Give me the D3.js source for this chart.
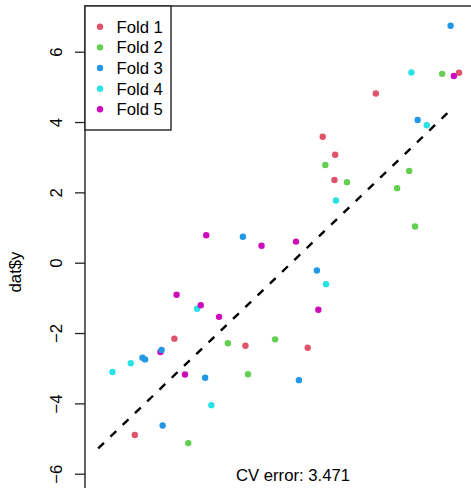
<!DOCTYPE html>
<html>
<head>
<meta charset="utf-8">
<script src="https://cdn.jsdelivr.net/npm/d3@7"></script>
<style>
  body { margin: 0; background: #fff; }
  svg { display: block; font-family: "Liberation Sans", Arial, sans-serif; }
</style>
</head>
<body>
<svg id="chart" width="471" height="488"></svg>
<script>
// fold labels and colours (R 4 default palette 2..6)
const folds = ['Fold 1', 'Fold 2', 'Fold 3', 'Fold 4', 'Fold 5'];
const foldColors = ['#DF536B', '#61D04F', '#2297E6', '#28E2E5', '#CD0BBC'];

// x / y values per fold
const fold1X = [4.57, 2.30, 0.85, 1.19, 1.17, -3.20, -4.28, -1.26, 0.44];
const fold1Y = [5.40, 4.81, 3.58, 3.07, 2.35, -2.16, -4.90, -2.36, -2.42];
const fold2X = [4.11, 0.92, 1.51, 3.21, 2.88, 3.37, -1.74, -2.82, -0.45, -1.19];
const fold2Y = [5.37, 2.78, 2.29, 2.61, 2.12, 1.03, -2.29, -5.13, -2.18, -3.17];
const fold3X = [4.34, 3.44, -1.33, 0.69, -4.07, -4.00, -2.36, -3.52, 0.20];
const fold3Y = [6.74, 4.06, 0.74, -0.22, -2.70, -2.75, -3.27, -4.63, -3.34];
const fold4X = [3.27, 3.69, 1.21, 0.94, -2.58, -4.39, -4.89, -2.19];
const fold4Y = [5.41, 3.91, 1.77, -0.61, -1.31, -2.86, -3.11, -4.05];
const fold5X = [-0.82, 0.12, 0.73, -2.33, -3.14, -2.48, -1.98, -3.58, -2.91, 4.43];
const fold5Y = [0.48, 0.60, -1.34, 0.78, -0.91, -1.21, -1.54, -2.54, -3.18, 5.31];
// a few points drawn last (on top of others)
const lateX = [-3.55];
const lateY = [-2.48];
const lateFold = [2];

// fitted line end points
const fitX = [-5.28, 4.37];
const fitY = [-5.28, 4.37];

const yTicks = [-6, -4, -2, 0, 2, 4, 6];
const cvLabel = 'CV error: 3.471';

const svg = d3.select('#chart');
const fontSize = 16.7;

const x = d3.scaleLinear().domain([-6, 6]).range([71.8, 511.4]);
const y = d3.scaleLinear().domain([-6, 6]).range([473.7, 51.7]);

const plotLeft = 85, plotTop = 6;

// plot box (right and bottom are outside the window)
svg.append('rect')
  .attr('x', plotLeft)
  .attr('y', plotTop)
  .attr('width', 600)
  .attr('height', 600)
  .attr('fill', 'none')
  .attr('stroke', '#222')
  .attr('stroke-width', 1.4);

// y axis
const yAxis = svg.append('g')
  .attr('transform', 'translate(' + plotLeft + ',0)')
  .call(d3.axisLeft(y).tickValues(yTicks).tickSize(10).tickSizeOuter(0)
    .tickFormat(d => d < 0 ? '\u2212' + Math.abs(d) : d));
yAxis.select('.domain').remove();
yAxis.selectAll('.tick line').attr('stroke', '#222').attr('stroke-width', 1.3);
yAxis.selectAll('.tick text')
  .attr('x', null).attr('dy', null)
  .attr('transform', 'translate(-23.5,0) rotate(-90)')
  .attr('text-anchor', 'middle')
  .attr('font-size', fontSize)
  .attr('font-family', '"Liberation Sans", Arial, sans-serif')
  .attr('fill', '#000');

svg.append('text')
  .attr('transform', 'translate(20.5,272) rotate(-90)')
  .attr('text-anchor', 'middle')
  .attr('font-size', fontSize)
  .text('dat$y');

// fitted line
svg.append('line')
  .attr('x1', x(fitX[0])).attr('y1', y(fitY[0]))
  .attr('x2', x(fitX[1])).attr('y2', y(fitY[1]))
  .attr('stroke', '#000')
  .attr('stroke-width', 2.4)
  .attr('stroke-dasharray', '8,9');

// points
const allX = [fold1X, fold2X, fold3X, fold4X, fold5X];
const allY = [fold1Y, fold2Y, fold3Y, fold4Y, fold5Y];
let pts = [];
allX.forEach((xs, f) => {
  xs.forEach((v, i) => pts.push({x: v, y: allY[f][i], fold: f}));
});
lateX.forEach((v, i) => pts.push({x: v, y: lateY[i], fold: lateFold[i]}));

svg.append('g').selectAll('circle')
  .data(pts)
  .enter().append('circle')
  .attr('cx', d => x(d.x))
  .attr('cy', d => y(d.y))
  .attr('r', 3.2)
  .attr('fill', d => foldColors[d.fold]);

// CV error label
svg.append('text')
  .attr('x', 293)
  .attr('y', 480.5)
  .attr('text-anchor', 'middle')
  .attr('font-size', fontSize)
  .text(cvLabel);

// legend
let legend = svg.append('g').attr('class', 'legend');
legend.append('rect')
  .attr('x', plotLeft)
  .attr('y', plotTop)
  .attr('width', 86)
  .attr('height', 124)
  .attr('fill', '#fff')
  .attr('stroke', '#222')
  .attr('stroke-width', 1.4);
folds.forEach((f, i) => {
  let ly = 26.7 + i * 20.65;
  legend.append('circle')
    .attr('cx', 100).attr('cy', ly).attr('r', 3.2)
    .attr('fill', foldColors[i]);
  legend.append('text')
    .attr('x', 116.5).attr('y', ly + 6)
    .attr('font-size', fontSize)
    .text(f);
});
</script>
</body>
</html>
